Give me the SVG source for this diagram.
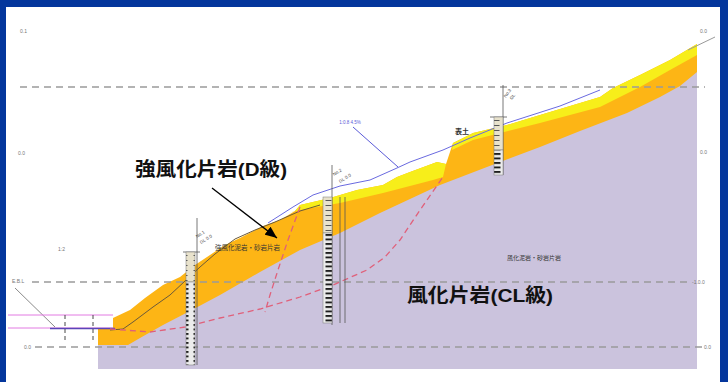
<svg xmlns="http://www.w3.org/2000/svg" width="728" height="382" viewBox="0 0 728 382">
  <defs>
    <style>
      .ref { stroke: #9a9a9a; stroke-width: 1.3; stroke-dasharray: 7 5; fill: none; }
      .tick { font-family: "Liberation Sans", Arial, sans-serif; font-size: 5px; fill: #777; }
      .lbl { font-family: "Liberation Sans", "Noto Sans CJK JP", sans-serif; font-weight: bold; fill: #111; }
      .small { font-family: "Noto Sans CJK JP", sans-serif; fill: #333; }
      .slip { stroke: #e0607a; stroke-width: 1.3; stroke-dasharray: 6 4; fill: none; }
      .col { fill: url(#log); stroke: #777; stroke-width: 0.5; }
      .col-top { fill: url(#log-light); stroke: #777; stroke-width: 0.5; }
      .rod { stroke: #555; stroke-width: 0.8; fill: none; }
      .bhtxt { font-family: "Liberation Sans", Arial, sans-serif; font-size: 4.5px; fill: #444; }
    </style>
    <!-- core log hatching: dense in rock, sparse in weathered zone -->
    <pattern id="log" patternUnits="userSpaceOnUse" width="12" height="4.5">
      <rect width="12" height="4.5" fill="#ececec"/>
      <rect x="1.5" y="0" width="7" height="1.9" fill="#1e1e1e"/>
    </pattern>
    <pattern id="log-light" patternUnits="userSpaceOnUse" width="12" height="5">
      <rect width="12" height="5" fill="#e8e2cc"/>
      <rect x="1.5" y="0" width="6" height="1" fill="#555"/>
    </pattern>
    <marker id="arrow" viewBox="0 0 12 10" refX="12" refY="5" markerWidth="12" markerHeight="10" markerUnits="userSpaceOnUse" orient="auto">
      <path d="M0,0 L12,5 L0,10 Z" fill="#000"/>
    </marker>
  </defs>

  <!-- frame -->
  <rect x="0" y="0" width="728" height="382" fill="#04369c"/>
  <rect x="6" y="7" width="714" height="375" fill="#ffffff"/>

  <!-- strata -->
  <g id="strata">
    <!-- weathered layer (orange), drawn under the whole profile -->
    <polygon id="layer-d" fill="#fdb515" points="98,329 113,328 113,318 130,310 145,298 163,285 180,277 195,265 213,253 225,245 240,238 263,226 280,220 295,211 300,205 330,198 357,190 383,185 397,177 410,172 437,162 446,164 449,155 453,143 473,133 507,125 540,115 600,97 613,88 640,75 670,60 697,44 697,369 98,369"/>
    <!-- topsoil (yellow) -->
    <polygon id="topsoil-mid" fill="#f7ee1a" points="288,213 295,211 300,205 330,198 357,190 383,185 397,177 410,172 437,162 446,164 443,177 433,180 383,193 340,203 300,210"/>
    <polygon id="topsoil-upper" fill="#f7ee1a" points="452,150 453,143 473,133 507,125 540,115 600,97 613,88 640,75 670,60 697,44 697,55 670,70 640,87 600,107 540,123 473,140"/>
    <!-- bedrock (lavender) -->
    <polygon id="layer-cl" fill="#cbc3dd" points="98,345 128,345 140,338 163,325 190,311 220,295 260,272 300,250 340,233 380,213 440,185 500,162 540,147 580,131 627,113 660,97 680,86 697,72 697,369 98,369"/>
  </g>

  <!-- elevation reference lines -->
  <g id="reference-lines">
    <line class="ref" x1="20" y1="87" x2="705" y2="87"/>
    <line class="ref" x1="32" y1="282" x2="690" y2="282"/>
    <line class="ref" x1="35" y1="347" x2="702" y2="347"/>
    <text class="tick" x="20" y="33">0.1</text>
    <text class="tick" x="700" y="33">0.0</text>
    <text class="tick" x="18" y="155">0.0</text>
    <text class="tick" x="700" y="154">0.0</text>
    <text class="tick" x="12" y="283">E.B.L</text>
    <text class="tick" x="692" y="284">-1.0.0</text>
    <text class="tick" x="24" y="349">0.0</text>
    <text class="tick" x="704" y="349">0.0</text>
  </g>

  <!-- connectors: ground lines, design line and slip surfaces -->
  <g id="connectors">
    <!-- river side -->
    <line x1="15" y1="288" x2="55" y2="327" stroke="#8a8a8a" stroke-width="1"/>
    <line x1="8" y1="315" x2="113" y2="315" stroke="#e27be2" stroke-width="1"/>
    <line x1="8" y1="328" x2="113" y2="328" stroke="#e27be2" stroke-width="1"/>
    <line x1="50" y1="328.5" x2="115" y2="328.5" stroke="#5a46b8" stroke-width="1.3"/>
    <line x1="65" y1="315" x2="65" y2="340" stroke="#333" stroke-width="0.9" stroke-dasharray="4 3"/>
    <line x1="93" y1="315" x2="93" y2="340" stroke="#333" stroke-width="0.9" stroke-dasharray="4 3"/>
    <!-- original ground -->
    <polyline fill="none" stroke="#6b5a3a" stroke-width="1" points="110,330 123,329 133,322 153,307 170,295 185,281 200,267 215,254 235,239 255,230 275,222 300,211 320,205"/>
    <!-- design slope line -->
    <polyline fill="none" stroke="#6a6ae0" stroke-width="1" points="268,223 293,207 313,195 340,186 370,180 397,168 410,162 443,150 470,138 507,123 560,106 600,90"/>
    <line x1="353" y1="127" x2="398" y2="167" stroke="#5a5ad8" stroke-width="1"/>
    <text x="350" y="124" text-anchor="middle" font-family="Liberation Sans, Arial, sans-serif" font-size="4.5" fill="#5a5ad8">1:0.8 4.5%</text>
    <!-- upper grey ground line -->
    <line x1="688" y1="50" x2="715" y2="37" stroke="#9a9a9a" stroke-width="1"/>
    <!-- slip surfaces -->
    <polyline class="slip" points="110,329 150,332 185,327 220,318 260,309 300,297 333,285 367,270 385,257 400,240 420,210 443,177"/>
    <polyline class="slip" points="300,207 288,240 278,270 270,295 265,312"/>
    <!-- label leader -->
    <line x1="212" y1="188" x2="277" y2="238" stroke="#000" stroke-width="1.3" marker-end="url(#arrow)"/>
  </g>

  <!-- boreholes -->
  <g id="bh-1">
    <line class="rod" x1="197" y1="218" x2="197" y2="365"/>
    <line class="rod" x1="183" y1="252" x2="200" y2="252"/>
    <rect class="col-top" x="186" y="252" width="9" height="30"/>
    <rect class="col" x="186" y="282" width="9" height="83"/>
    <text class="bhtxt" transform="translate(197,238) rotate(-32)">No.1</text>
    <text class="bhtxt" transform="translate(201,244) rotate(-32)">GL 0.0</text>
  </g>
  <g id="bh-2">
    <line class="rod" x1="332" y1="165" x2="332" y2="325"/>
    <line class="rod" x1="340" y1="197" x2="340" y2="323"/>
    <line class="rod" x1="345" y1="197" x2="345" y2="323"/>
    <rect class="col-top" x="323" y="197" width="9" height="36"/>
    <rect class="col" x="323" y="233" width="9" height="90"/>
    <text class="bhtxt" transform="translate(334,176) rotate(-32)">No.2</text>
    <text class="bhtxt" transform="translate(340,183) rotate(-32)">GL 0.0</text>
  </g>
  <g id="bh-3">
    <line class="rod" x1="503" y1="85" x2="503" y2="175"/>
    <line class="rod" x1="490" y1="117" x2="507" y2="117"/>
    <rect class="col-top" x="494" y="117" width="9" height="33"/>
    <rect class="col" x="494" y="150" width="9" height="25"/>
    <text class="bhtxt" transform="translate(506,98) rotate(-55)">No.3</text>
    <text class="bhtxt" transform="translate(512,100) rotate(-55)">GL</text>
  </g>

  <!-- labels -->
  <g id="labels">
    <text class="lbl" x="135" y="176" font-size="19" textLength="152" lengthAdjust="spacingAndGlyphs">強風化片岩(D級)</text>
    <text class="lbl" x="407" y="302" font-size="19" textLength="146" lengthAdjust="spacingAndGlyphs">風化片岩(CL級)</text>
    <text class="small" x="215" y="250" font-size="6.5">強風化泥岩・砂岩片岩</text>
    <text class="small" x="507" y="260" font-size="6">風化泥岩・砂岩片岩</text>
    <text class="small" x="455" y="134" font-size="7" font-weight="bold" fill="#111">表土</text>
    <text class="tick" x="58" y="251">1:2</text>
  </g>
</svg>
